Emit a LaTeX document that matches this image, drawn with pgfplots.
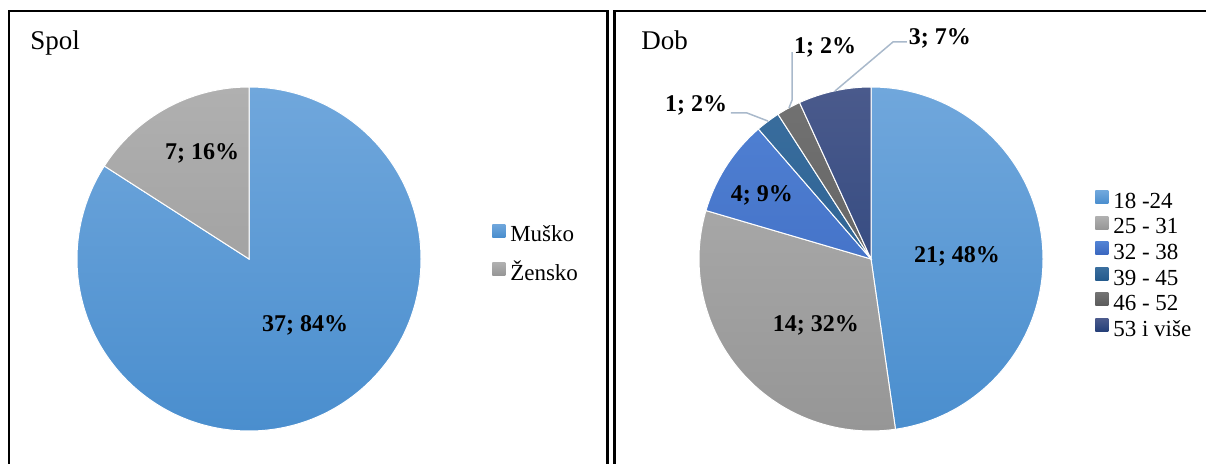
\documentclass[border=0pt]{standalone}
\usepackage{fontspec}
\setmainfont{Liberation Serif}
\usepackage{pgfplots}
\pgfplotsset{compat=1.18}

% Office-like palette, light top / dark bottom
\definecolor{c1t}{HTML}{70A7DC}\definecolor{c1b}{HTML}{4A8ECE}
\definecolor{c2t}{HTML}{B0B0B0}\definecolor{c2b}{HTML}{969696}
\definecolor{c3t}{HTML}{5182D4}\definecolor{c3b}{HTML}{3A66BE}
\definecolor{c4t}{HTML}{3A6E9E}\definecolor{c4b}{HTML}{245A8C}
\definecolor{c5t}{HTML}{727272}\definecolor{c5b}{HTML}{5A5A5A}
\definecolor{c6t}{HTML}{4A5A8C}\definecolor{c6b}{HTML}{243F78}
\definecolor{leader}{HTML}{A9B9CB}

% #1 total, #2 list value/topcolor/bottomcolor (clockwise from 12 o'clock)
\newcommand{\pieslices}[2]{%
  \xdef\cum{0}%
  \foreach \v/\ct/\cb in {#2} {%
    \pgfmathsetmacro{\a}{90-360*\cum/#1}%
    \pgfmathsetmacro{\b}{90-360*(\cum+\v)/#1}%
    \edef\temp{%
      \noexpand\begin{scope}
      \noexpand\clip (axis cs:0,0) -- (axis cs:{cos(\a)},{sin(\a)}) arc[start angle=\a, end angle=\b, radius=86pt] -- cycle;
      \noexpand\shade[top color=\ct, bottom color=\cb] (axis cs:-1,-1) rectangle (axis cs:1,1);
      \noexpand\end{scope}
      \noexpand\draw[white, line width=0.5pt] (axis cs:0,0) -- (axis cs:{cos(\a)},{sin(\a)}) arc[start angle=\a, end angle=\b, radius=86pt] -- cycle;
    }\temp
    \pgfmathsetmacro{\c}{\cum+\v}\xdef\cum{\c}%
  }%
}

\pgfplotsset{
  pie/.style={
    scale only axis, width=172pt, height=172pt,
    xmin=-1, xmax=1, ymin=-1, ymax=1,
    hide axis, clip=false, anchor=center,
    legend cell align=left,
    legend image code/.code={\path[##1, draw=none] (0pt,0.55pt) rectangle (6.5pt,7.05pt);},
  },
}
\tikzset{lbl/.style={font=\bfseries\fontsize{12}{14}\selectfont, inner sep=0pt}}

\begin{document}
\begin{tikzpicture}
\useasboundingbox (0,0) rectangle (603pt,-232pt);
% frames
\draw[line width=1.2pt] (4.35pt,-240pt) -- (4.35pt,-5.65pt) -- (303.75pt,-5.65pt) -- (303.75pt,-240pt);
\draw[line width=1.2pt] (307.25pt,-240pt) -- (307.25pt,-5.65pt) -- (610pt,-5.65pt);
\node[anchor=base west, inner sep=0pt, font=\fontsize{13.5}{15}\selectfont] at (15pt,-25pt) {Spol};
\node[anchor=base west, inner sep=0pt, font=\fontsize{13.5}{15}\selectfont] at (320.5pt,-25pt) {Dob};

% Spol
\begin{axis}[pie, at={(124.5pt,-129.5pt)},
  legend style={draw=none, fill=none, at={(1.206,0.507)}, anchor=west,
    font=\fontsize{11.5}{12}\selectfont, inner sep=0pt, row sep=5.95pt, column sep=2.5pt,
    nodes={inner sep=0pt, text height=8pt, text depth=4.45pt}}]
\pieslices{44}{37/c1t/c1b, 7/c2t/c2b}
\addlegendimage{top color=c1t, bottom color=c1b}\addlegendentry{Muško}
\addlegendimage{top color=c2t, bottom color=c2b}\addlegendentry{Žensko}
\node[lbl] at (axis cs:0.326,-0.384) {37; 84\%};
\node[lbl] at (axis cs:-0.273,0.616) {7; 16\%};
\end{axis}

% Dob
\begin{axis}[pie, at={(435.5pt,-129.5pt)},
  legend style={draw=none, fill=none, at={(1.151,0.474)}, anchor=west,
    font=\fontsize{11.5}{12}\selectfont, inner sep=0pt, row sep=-0.5pt, column sep=2.5pt,
    nodes={inner sep=0pt, text height=8pt, text depth=4.45pt}}]
\pieslices{44}{21/c1t/c1b, 14/c2t/c2b, 4/c3t/c3b, 1/c4t/c4b, 1/c5t/c5b, 3/c6t/c6b}
\addlegendimage{top color=c1t, bottom color=c1b}\addlegendentry{18 -24}
\addlegendimage{top color=c2t, bottom color=c2b}\addlegendentry{25 - 31}
\addlegendimage{top color=c3t, bottom color=c3b}\addlegendentry{32 - 38}
\addlegendimage{top color=c4t, bottom color=c4b}\addlegendentry{39 - 45}
\addlegendimage{top color=c5t, bottom color=c5b}\addlegendentry{46 - 52}
\addlegendimage{top color=c6t, bottom color=c6b}\addlegendentry{53 i više}
\draw[leader, line width=0.75pt] (axis cs:-0.814,0.849) -- (axis cs:-0.721,0.849) -- (axis cs:-0.599,0.802);
\draw[leader, line width=0.75pt] (axis cs:-0.459,1.203) -- (axis cs:-0.459,0.924) -- (axis cs:-0.477,0.878);
\draw[leader, line width=0.75pt] (axis cs:0.209,1.262) -- (axis cs:0.128,1.262) -- (axis cs:-0.209,0.977);
\node[lbl] at (axis cs:0.500,0.017) {21; 48\%};
\node[lbl] at (axis cs:-0.320,-0.384) {14; 32\%};
\node[lbl] at (axis cs:-0.634,0.372) {4; 9\%};
\node[lbl] at (axis cs:-1.017,0.895) {1; 2\%};
\node[lbl] at (axis cs:-0.267,1.233) {1; 2\%};
\node[lbl] at (axis cs:0.401,1.285) {3; 7\%};
\end{axis}
\end{tikzpicture}
\end{document}
